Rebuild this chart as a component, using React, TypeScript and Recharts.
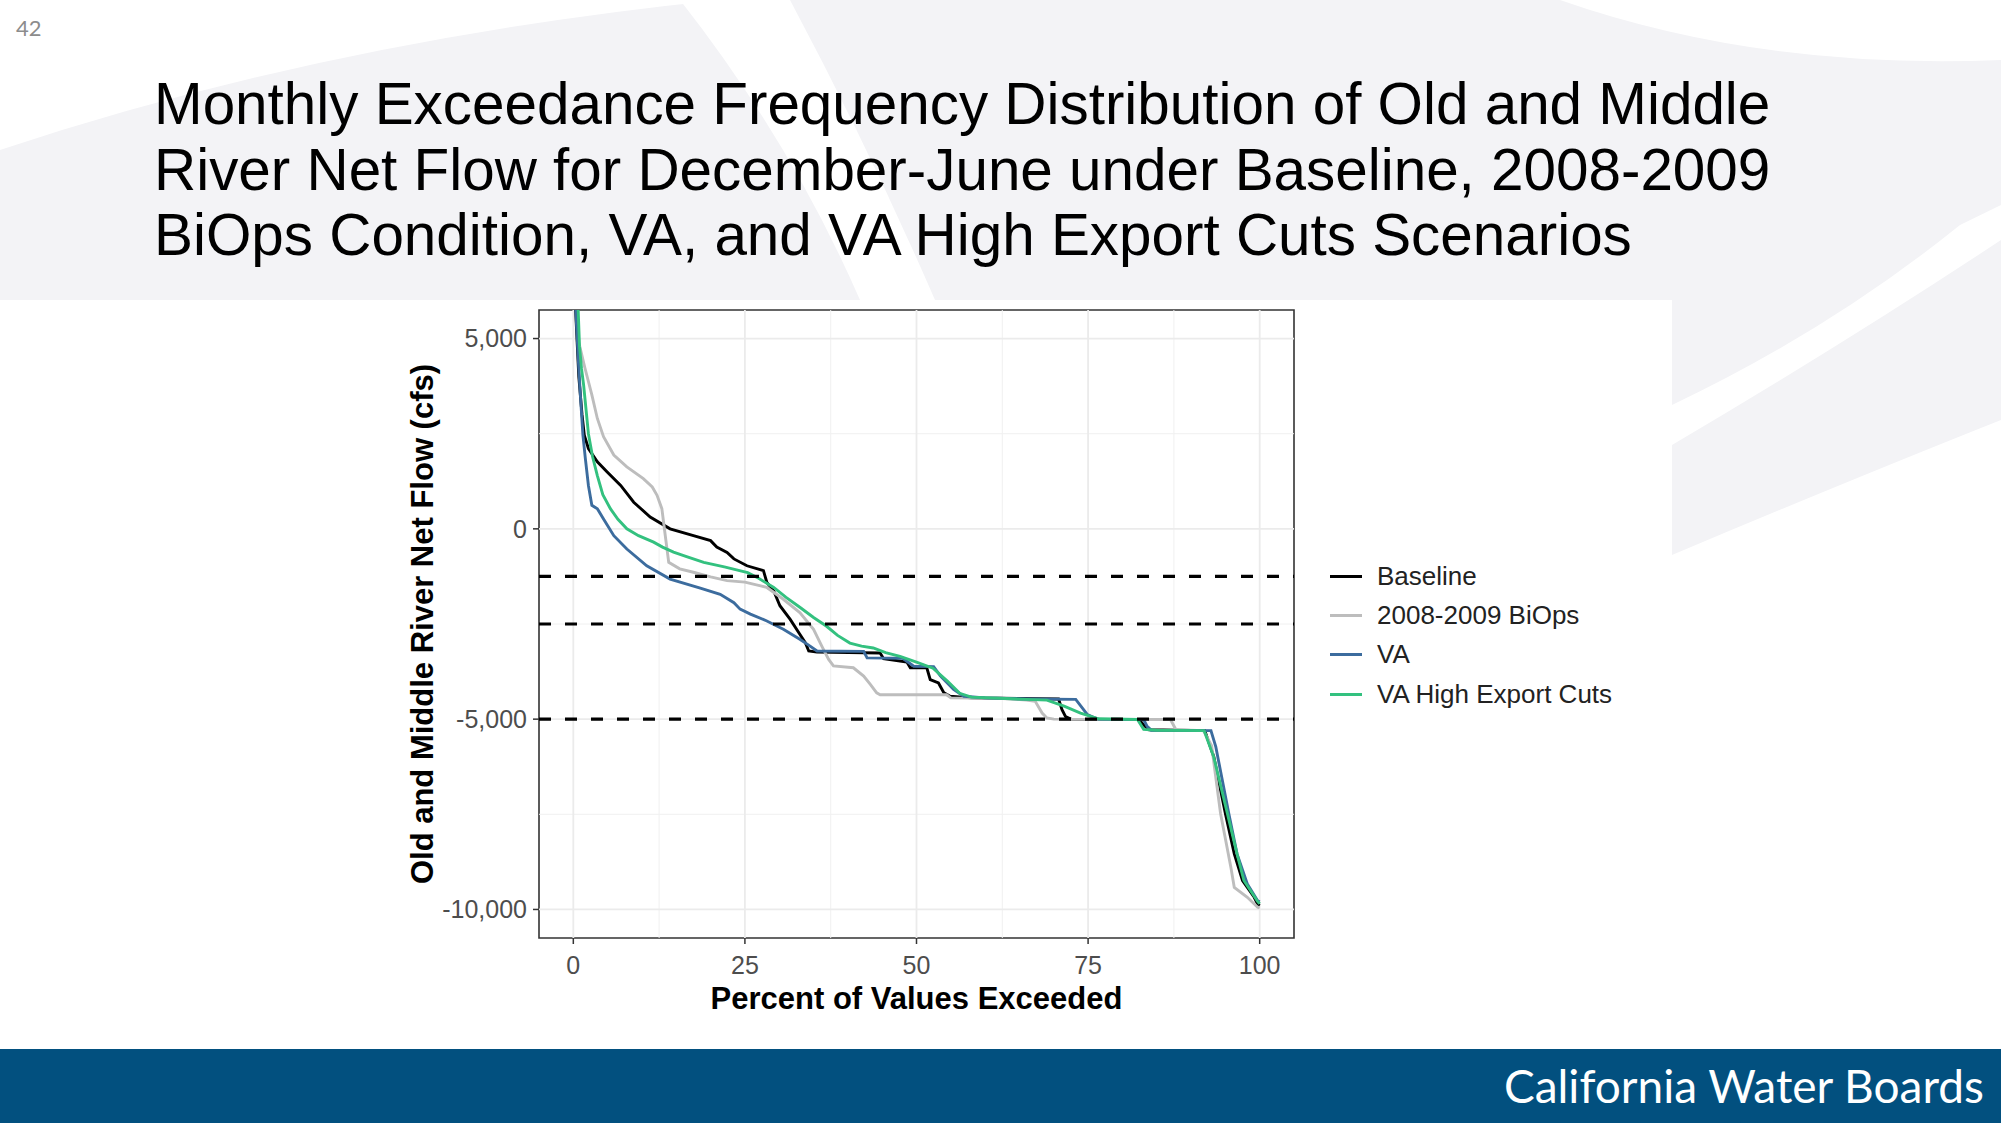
import React from 'react';
import { LineChart, Line, XAxis, YAxis, ReferenceLine, ReferenceArea } from 'recharts';

// exceedance curves, x = percent of values exceeded, y = OMR net flow (cfs)
const baselineX = [0, 0.8, 1.27, 1.6, 2.2, 3.5, 4.9, 6.9, 8.8, 11.2, 14.1, 17.5, 20, 20.9, 22.4, 23.4, 25.3, 27.7, 28.2, 29.2, 30.1, 31.6, 33, 33.8, 34.3, 35.5, 44.7, 45.2, 48.6, 49.1, 51.5, 52, 53.2, 54, 54.9, 58, 62, 70.7, 71.2, 71.7, 72.5, 82.4, 83.1, 83.9, 92, 93.3, 95, 96.3, 97.5, 99.2, 99.7, 100];
const baselineY = [7000, 4000, 3000, 2460, 2110, 1760, 1500, 1140, 700, 310, 0, -180, -310, -480, -620, -790, -970, -1100, -1410, -1630, -2020, -2380, -2770, -2990, -3210, -3240, -3260, -3410, -3500, -3650, -3650, -3960, -4050, -4310, -4400, -4440, -4450, -4470, -4750, -4930, -5000, -5010, -5150, -5280, -5300, -5980, -7480, -8540, -9240, -9680, -9860, -9900];

const biopsX = [0, 0.8, 1, 1.7, 2.7, 3.5, 4.4, 5.9, 7.8, 10.2, 11.5, 12.2, 12.9, 13.4, 13.9, 15.5, 17.5, 20, 22.4, 25, 27.3, 28.2, 30.6, 33, 35, 36.2, 37.2, 37.9, 40.8, 42.3, 43.3, 44.2, 44.7, 54.4, 55, 62, 66, 67.3, 68.3, 69, 70, 87, 87.8, 91.8, 93, 94.3, 95.8, 96.3, 98.2, 99.7, 100];
const biopsY = [8000, 4900, 4750, 4220, 3520, 2900, 2420, 1940, 1630, 1320, 1100, 880, 530, -180, -880, -1050, -1140, -1260, -1360, -1400, -1500, -1540, -1850, -2200, -2640, -3080, -3430, -3600, -3650, -3870, -4090, -4310, -4360, -4360, -4440, -4450, -4500, -4530, -4840, -4970, -5000, -5010, -5280, -5300, -5700, -7480, -8890, -9420, -9680, -9940, -9960];

const vaX = [0, 0.8, 1, 1.4, 1.75, 2.2, 2.7, 3.5, 4.4, 5.9, 7.8, 10.7, 14.1, 18.5, 21.4, 23.4, 24.3, 25.8, 28.2, 30.6, 33, 34.5, 35.5, 42.3, 42.8, 48, 49.6, 52.5, 53.5, 55.4, 56.9, 60, 66, 73.2, 74.9, 75.8, 76.5, 83.1, 83.6, 84.2, 92.9, 93.6, 95.5, 96.7, 98.2, 99.7, 100];
const vaY = [7000, 4200, 3600, 2460, 1850, 1140, 620, 530, 260, -180, -530, -970, -1320, -1560, -1720, -1940, -2110, -2240, -2420, -2640, -2900, -3080, -3210, -3220, -3390, -3400, -3610, -3620, -3870, -4220, -4400, -4440, -4470, -4480, -4880, -4950, -5000, -5010, -5190, -5290, -5300, -5720, -7480, -8540, -9330, -9770, -9800];

const vaHighX = [0, 0.7, 0.9, 1.2, 1.5, 2.2, 2.8, 3.5, 4.3, 5.4, 6.5, 7.8, 9.5, 11.7, 13, 14.6, 16.5, 19, 22, 25.4, 27, 29.2, 31, 33, 35, 36.9, 38.5, 40.3, 42, 43.7, 45.5, 47.6, 50, 52.4, 54.5, 56.3, 58, 62, 66, 69, 71.5, 73.9, 75.4, 76.5, 82.2, 83.1, 85, 91.9, 93.3, 95.3, 96.7, 97.7, 99.7, 100];
const vaHighY = [9000, 5800, 4800, 4200, 3780, 2500, 1900, 1400, 900, 530, 250, 0, -180, -350, -480, -610, -730, -880, -1000, -1150, -1300, -1540, -1800, -2060, -2330, -2560, -2800, -3000, -3080, -3130, -3250, -3350, -3500, -3660, -4000, -4320, -4420, -4450, -4480, -4500, -4660, -4840, -4930, -4990, -5010, -5270, -5290, -5300, -5990, -7480, -8540, -9240, -9790, -9850];

const seriesNames = ['Baseline', '2008-2009 BiOps', 'VA', 'VA High Export Cuts'];
const seriesColors = ['#000000', '#bdbdbd', '#3c6c9e', '#33c17f'];

const xTicks = [0, 25, 50, 75, 100];
const xMinor = [12.5, 37.5, 62.5, 87.5];
const yTicks = [-10000, -5000, 0, 5000];
const yMinor = [-7500, -2500, 2500];
const thresholds = [-1250, -2500, -5000];

const toPoints = (xs: number[], ys: number[]) => xs.map((x, i) => ({ pct: x, flow: ys[i] }));
const series = [
  toPoints(baselineX, baselineY),
  toPoints(biopsX, biopsY),
  toPoints(vaX, vaY),
  toPoints(vaHighX, vaHighY),
];

const font = '"Liberation Sans", Arial, sans-serif';

function YTitle(props: any) {
  const { viewBox } = props;
  const x = viewBox.x + 3;
  const y = viewBox.y + viewBox.height / 2;
  return (
    <text x={x} y={y} transform={`rotate(-90, ${x}, ${y})`} textAnchor="middle" dominantBaseline="central"
      style={{ fontFamily: font, fontSize: 31, fontWeight: 700, fill: '#000' }}>
      Old and Middle River Net Flow (cfs)
    </text>
  );
}

function XTitle(props: any) {
  const { viewBox } = props;
  return (
    <text x={viewBox.x + viewBox.width / 2} y={viewBox.y + 60} textAnchor="middle" dominantBaseline="central"
      style={{ fontFamily: font, fontSize: 31, fontWeight: 700, fill: '#000' }}>
      Percent of Values Exceeded
    </text>
  );
}

function Background() {
  const g = '#f3f3f6';
  return (
    <svg width={2001} height={1123} style={{ position: 'absolute', left: 0, top: 0 }}>
      <rect x={0} y={0} width={2001} height={1123} fill="#ffffff" />
      <rect x={0} y={0} width={2001} height={300} fill={g} />
      <path d="M0,0 L720,0 Q330,40 0,150 Z" fill="#ffffff" />
      <path d="M680,0 L790,0 Q870,150 935,300 L860,300 Q790,140 680,0 Z" fill="#ffffff" />
      <path d="M1560,0 L2001,0 L2001,60 Q1760,70 1560,0 Z" fill="#ffffff" />
      <path d="M1672,300 L2001,300 L2001,420 Q1850,480 1672,555 Z" fill={g} />
      <path d="M1672,405 Q1830,330 1960,225 L2001,205 L2001,240 Q1850,340 1672,445 Z" fill="#ffffff" />
    </svg>
  );
}

export default function App() {
  return (
    <div style={{ position: 'absolute', left: 0, top: 0, width: 2001, height: 1123, overflow: 'hidden', background: '#fff' }}>
      <Background />
      <div style={{ position: 'absolute', left: 16, top: 14, fontFamily: 'Lato, sans-serif', fontSize: 22, color: '#8c8c8c' }}>42</div>
      <div style={{ position: 'absolute', left: 154, top: 71, fontFamily: font, fontSize: 58.4, lineHeight: '65.7px', color: '#000', whiteSpace: 'nowrap' }}>
        Monthly Exceedance Frequency Distribution of Old and Middle<br />
        River Net Flow for December-June under Baseline, 2008-2009<br />
        BiOps Condition, VA, and VA High Export Cuts Scenarios
      </div>
      <div style={{ position: 'absolute', left: 0, top: 0 }}>
        <LineChart width={2001} height={1123} margin={{ top: 310, right: 707, bottom: 125, left: 419 }}>
          <XAxis dataKey="pct" type="number" domain={[-5, 105]} ticks={xTicks} axisLine={false}
            tickLine={{ stroke: '#333', strokeWidth: 1.5 }} tickSize={6} tickMargin={12} height={60}
            tick={{ fontFamily: font, fontSize: 25, fill: '#4d4d4d' }} label={<XTitle />} />
          <YAxis type="number" domain={[-10750, 5750]} allowDataOverflow ticks={yTicks} axisLine={false}
            tickLine={{ stroke: '#333', strokeWidth: 1.5 }} tickSize={6} tickMargin={6} width={120}
            tickFormatter={(v: number) => v.toLocaleString('en-US')}
            tick={{ fontFamily: font, fontSize: 25, fill: '#4d4d4d' }} label={<YTitle />} />
          {yMinor.map((v) => <ReferenceLine key={`ym${v}`} y={v} stroke="#f0f0f0" strokeWidth={1} />)}
          {xMinor.map((v) => <ReferenceLine key={`xm${v}`} x={v} stroke="#f0f0f0" strokeWidth={1} />)}
          {yTicks.map((v) => <ReferenceLine key={`y${v}`} y={v} stroke="#ebebeb" strokeWidth={1.8} />)}
          {xTicks.map((v) => <ReferenceLine key={`x${v}`} x={v} stroke="#ebebeb" strokeWidth={1.8} />)}
          {series.map((pts, i) => (
            <Line key={seriesNames[i]} data={pts} dataKey="flow" name={seriesNames[i]} type="linear"
              stroke={seriesColors[i]} strokeWidth={2.9} dot={false} activeDot={false} isAnimationActive={false} />
          ))}
          {thresholds.map((v) => <ReferenceLine key={`t${v}`} y={v} stroke="#000" strokeWidth={3.2} strokeDasharray="12 14" />)}
          <ReferenceArea x1={-5} x2={105} y1={-10750} y2={5750} fill="none" stroke="#333" strokeWidth={1.6} />
        </LineChart>
      </div>
      <div style={{ position: 'absolute', left: 1330, top: 557, fontFamily: font, fontSize: 26, color: '#222' }}>
        {seriesNames.map((n, i) => (
          <div key={n} style={{ display: 'flex', alignItems: 'center', height: 39.2 }}>
            <div style={{ width: 32, height: 3, background: seriesColors[i], marginRight: 15 }} />
            <span>{n}</span>
          </div>
        ))}
      </div>
      <div style={{ position: 'absolute', left: 0, top: 1049, width: 2001, height: 74, background: '#02507f' }}>
        <div style={{ position: 'absolute', right: 17, top: 0, height: 74, lineHeight: '74px', fontFamily: 'Lato, sans-serif', fontSize: 46, color: '#fff' }}>
          California Water Boards
        </div>
      </div>
    </div>
  );
}
